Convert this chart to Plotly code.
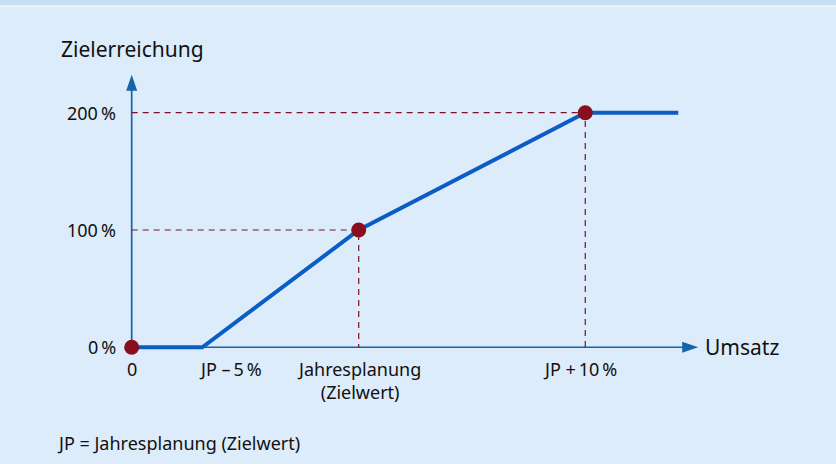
import plotly.graph_objects as go

# Data (x in relative Umsatz units, y in % Zielerreichung)
line_x = [0, 12.47, 40.04, 80.0, 96.4]
line_y = [0, 0, 100, 200, 200]
point_x = [0, 40.04, 80.0]
point_y = [0, 100, 200]
ytick_vals = [0, 100, 200]
ytick_text = ["0\u2009%", "100\u2009%", "200\u2009%"]
xlabel_x = [0, 12.47, 40.04, 80.0]
xlabel_text = ["0", "JP \u2013\u20095\u2009%", "Jahresplanung<br>(Zielwert)", "JP +\u200910\u2009%"]
xlabel_anchor = ["center", "left", "center", "center"]

BG = "#ddecfa"
STRIP = "#c5dff5"
BLUE = "#0b5cc4"
AXIS = "#1762ab"
RED = "#8a0d20"
DASH = "#7e1028"
TXT = "#111111"
FONT = "Noto Sans"

# pixel geometry of the axes
X0, SX = 131.5, 5.67     # px of x=0, px per unit
Y0, SY = 347.5, 1.173    # px of y=0, px per unit
XR = [-4, 102]
YR = [-10, 233]
W, H = 836, 464
l = X0 + XR[0] * SX
r = W - (X0 + XR[1] * SX)
b = H - (Y0 - YR[0] * SY)
t = Y0 - YR[1] * SY
pw = W - l - r
ph = H - t - b


def dx(px):
    return (px - X0) / SX


def dy(py):
    return (Y0 - py) / SY


def px_paper(px):
    return (px - l) / pw


def py_paper(py):
    return (H - b - py) / ph


fig = go.Figure()

# dashed guide lines
for px_, py_ in zip(point_x[1:], point_y[1:]):
    fig.add_trace(go.Scatter(x=[0, px_, px_], y=[py_, py_, 0], mode="lines",
                             line=dict(color=DASH, width=1.2, dash="6px,5px"),
                             hoverinfo="skip", showlegend=False))

# main line
fig.add_trace(go.Scatter(x=line_x, y=line_y, mode="lines",
                         line=dict(color=BLUE, width=4), showlegend=False))
# points
fig.add_trace(go.Scatter(x=point_x, y=point_y, mode="markers",
                         marker=dict(color=RED, size=15), showlegend=False))

shapes = [
    # top strip
    dict(type="rect", xref="paper", yref="paper", x0=-1, x1=2, y0=py_paper(5.7), y1=py_paper(-2),
         fillcolor=STRIP, line_width=0, layer="below"),
    dict(type="rect", xref="paper", yref="paper", x0=-1, x1=2, y0=py_paper(7.2), y1=py_paper(5.7),
         fillcolor="#f3f8fd", line_width=0, layer="below"),
    # axes
    dict(type="line", x0=0, x1=dx(683), y0=0, y1=0, line=dict(color=AXIS, width=1.7), layer="below"),
    dict(type="line", x0=0, x1=0, y0=0, y1=dy(90), line=dict(color=AXIS, width=1.7), layer="below"),
    # arrow heads
    dict(type="path", path=f"M {dx(682)},{5.5/SY} L {dx(698)},0 L {dx(682)},{-5.5/SY} Z",
         fillcolor=AXIS, line_width=0),
    dict(type="path", path=f"M {-5.5/SX},{dy(91)} L 0,{dy(75)} L {5.5/SX},{dy(91)} Z",
         fillcolor=AXIS, line_width=0),
]

annotations = []
for xv, txt, anc in zip(xlabel_x, xlabel_text, xlabel_anchor):
    xpix = X0 + xv * SX
    if anc == "left":
        xpix = 197
    if txt.startswith("JP +"):
        xpix = 580
    annotations.append(dict(x=px_paper(xpix), y=py_paper(355), xref="paper", yref="paper",
                            text=txt, showarrow=False,
                            xanchor=anc, yanchor="top", align="center",
                            font=dict(family=FONT, size=18, color=TXT)))
for yv, txt in zip(ytick_vals, ytick_text):
    annotations.append(dict(x=px_paper(117.5), y=py_paper(Y0 - yv * SY), xref="paper", yref="paper",
                            text=txt, showarrow=False,
                            xanchor="right", yanchor="middle",
                            font=dict(family=FONT, size=18, color=TXT)))
annotations += [
    dict(x=px_paper(703), y=py_paper(Y0), xref="paper", yref="paper", text="Umsatz",
         showarrow=False, xanchor="left", yanchor="middle",
         font=dict(family=FONT, size=21, color=TXT)),
    dict(x=px_paper(59), y=py_paper(49), xref="paper", yref="paper", text="Zielerreichung",
         showarrow=False, xanchor="left", yanchor="middle",
         font=dict(family=FONT, size=21, color=TXT)),
    dict(x=px_paper(55), y=py_paper(443), xref="paper", yref="paper",
         text="JP = Jahresplanung (Zielwert)",
         showarrow=False, xanchor="left", yanchor="middle",
         font=dict(family=FONT, size=18, color=TXT)),
]

fig.update_layout(
    width=W, height=H,
    margin=dict(l=l, r=r, t=t, b=b, pad=0),
    paper_bgcolor=BG, plot_bgcolor=BG,
    shapes=shapes, annotations=annotations,
    xaxis=dict(range=XR, showgrid=False, zeroline=False, showticklabels=False,
               showline=False, ticks="", fixedrange=True),
    yaxis=dict(range=YR, showgrid=False, zeroline=False, showticklabels=False,
               showline=False, ticks="", fixedrange=True),
    showlegend=False,
)

fig.write_html("out.html", config={"displayModeBar": False},
               post_script="document.body.style.margin='0';")
